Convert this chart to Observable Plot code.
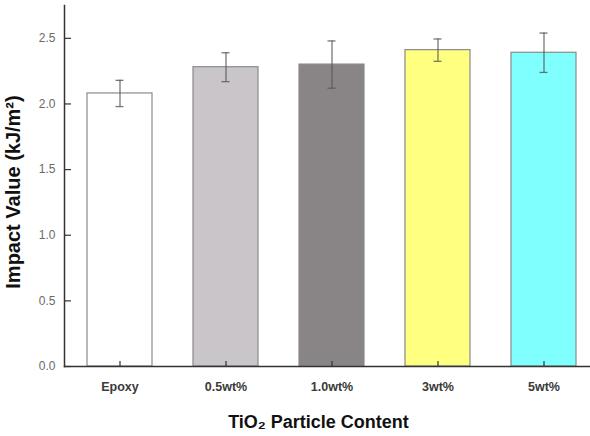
<!DOCTYPE html>
<html>
<head>
<meta charset="utf-8">
<script src="https://cdn.jsdelivr.net/npm/d3@7"></script>
<script src="https://cdn.jsdelivr.net/npm/@observablehq/plot@0.6"></script>
<style>
  html, body { margin: 0; padding: 0; background: #fff; }
  #chart svg { display: block; }
</style>
</head>
<body>
<div id="chart"></div>
<script>
// Impact strength of epoxy with TiO2 particle loadings (mean ± error)
const categories = ["Epoxy", "0.5wt%", "1.0wt%", "3wt%", "5wt%"];
const means = [2.08, 2.28, 2.30, 2.41, 2.39];
const errors = [0.10, 0.11, 0.18, 0.085, 0.15];
const fills = ["#ffffff", "#c9c5c9", "#898587", "#ffff80", "#80ffff"];
const yTicks = [0, 0.5, 1.0, 1.5, 2.0, 2.5];

const rows = categories.map((c, i) => ({
  cat: c,
  mean: means[i],
  lo: means[i] - errors[i],
  hi: means[i] + errors[i],
  fill: fills[i]
}));

const font = "'Liberation Sans', Arial, sans-serif";

const chart = Plot.plot({
  width: 590,
  height: 436,
  marginLeft: 64,
  marginRight: 0,
  marginTop: 5,
  marginBottom: 70,
  style: { fontFamily: font, background: "#fff" },
  x: { domain: categories, range: [64, 598], paddingInner: 0.39, paddingOuter: 0.2 },
  y: { domain: [0, 2.75] },
  marks: [
    Plot.barY(rows, { x: "cat", y: "mean", fill: "fill", stroke: "#8a8a8a", strokeWidth: 1.2 }),
    Plot.ruleX(rows, { x: "cat", y1: "lo", y2: "hi", stroke: "#555", strokeWidth: 1.3, strokeOpacity: 0.8 }),
    Plot.tickY(rows, { x: "cat", y: "hi", stroke: "#555", strokeWidth: 1.3, strokeOpacity: 0.8, insetLeft: 28.5, insetRight: 28.5 }),
    Plot.tickY(rows, { x: "cat", y: "lo", stroke: "#555", strokeWidth: 1.3, strokeOpacity: 0.8, insetLeft: 28.5, insetRight: 28.5 }),
    Plot.frame({ anchor: "left", stroke: "#333", strokeWidth: 1.5 }),
    Plot.frame({ anchor: "bottom", stroke: "#333", strokeWidth: 1.5 }),
    // inward tick marks
    Plot.axisY({ ticks: yTicks, tickSize: -7, text: null, label: null, stroke: "#333", strokeWidth: 1.2 }),
    Plot.axisY({ ticks: yTicks, tickSize: 0, tickPadding: 9, tickFormat: d3.format(".1f"), label: null, fontSize: 12, fill: "#6a6a6a" }),
    Plot.axisX({ tickSize: -5, text: null, label: null, stroke: "#333", strokeWidth: 1.2 }),
    Plot.axisX({ tickSize: 0, tickPadding: 16, label: null, fontSize: 12.5, fontWeight: "bold", fill: "#3a3a3a" }),
    Plot.text(["TiO₂ Particle Content"], {
      frameAnchor: "bottom", textAnchor: "middle", dx: -9, dy: 61, fontSize: 18, fontWeight: "bold", fill: "#111",
      style: "letter-spacing:1px"
    }),
    Plot.text(["Impact Value (kJ/m²)"], {
      frameAnchor: "left", textAnchor: "middle", dx: -51, dy: 6, rotate: -90, fontSize: 20, fontWeight: "bold", fill: "#111"
    })
  ]
});

document.getElementById("chart").appendChild(chart);
</script>
</body>
</html>
